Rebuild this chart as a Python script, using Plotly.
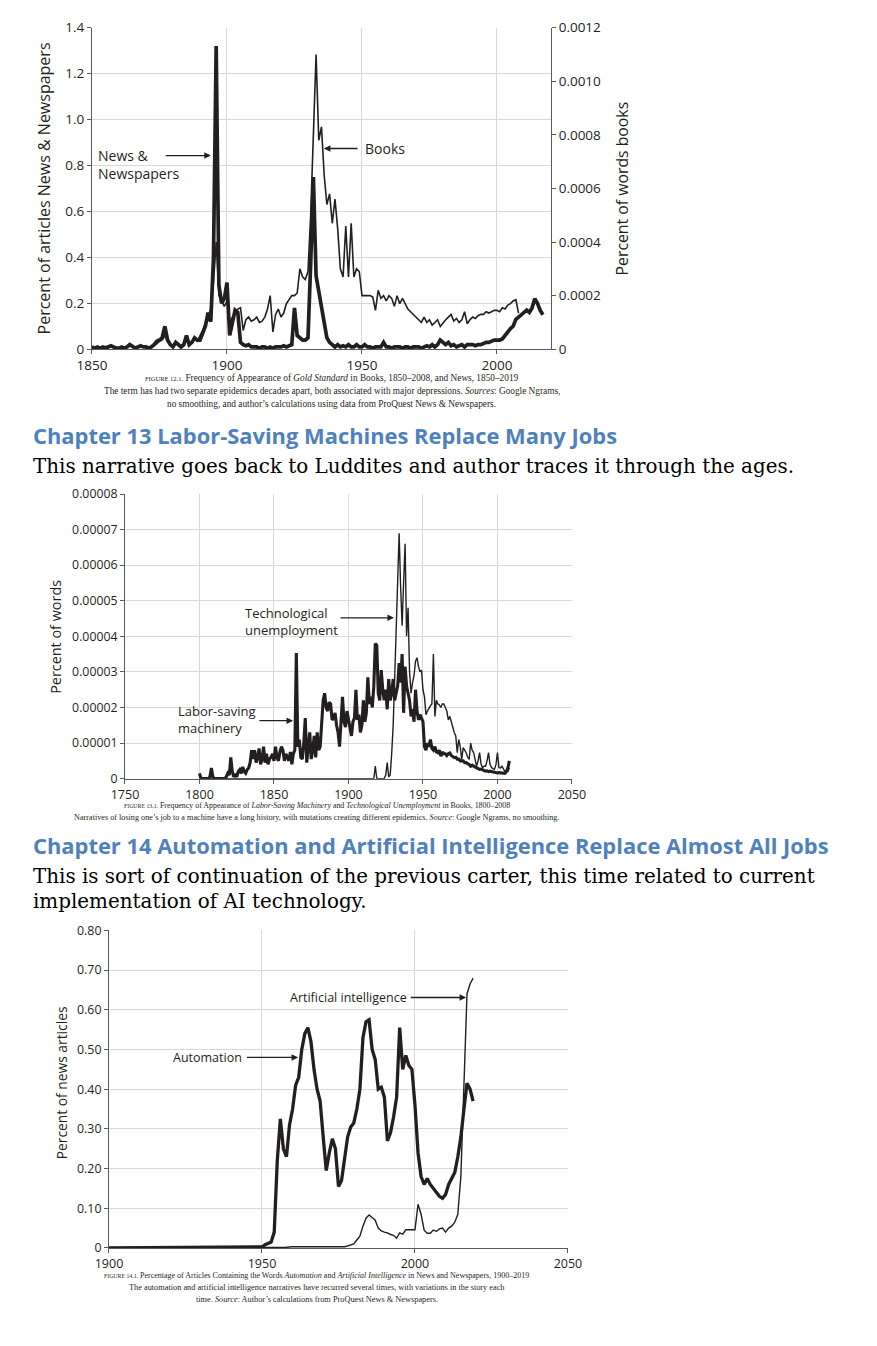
import plotly.graph_objects as go

W, H = 877, 1346
INK = '#231f20'

# ---------------- Chart 1: Gold Standard ----------------
news_years = list(range(1850, 2018))
news = [
    .01, .005, .01, .005, .01, .005, .01, .015, .01, .005,
    .005, .01, .005, .01, .02, .01, .005, .01, .015, .01,
    .01, .005, .01, .02, .035, .04, .05, .10, .04, .02,
    .01, .03, .02, .01, .02, .06, .02, .03, .05, .04,
    .04, .07, .10, .16, .12, .40, 1.32, .28, .20, .22,
    .29, .06, .12, .17, .16, .03, .02, .015, .02, .01,
    .01, .01, .005, .01, .01, .005, .01, .005, .01, .01,
    .01, .015, .01, .015, .02, .18, .06, .05, .04, .04,
    .05, .37, .75, .32, .25, .18, .12, .05, .03, .02,
    .01, .02, .01, .015, .01, .02, .01, .01, .02, .01,
    .01, .02, .01, .01, .005, .01, .01, .01, .03, .01,
    .01, .005, .01, .01, .01, .005, .01, .01, .005, .01,
    .01, .01, .005, .01, .015, .01, .02, .01, .02, .04,
    .03, .02, .03, .015, .02, .01, .015, .02, .01, .02,
    .02, .02, .015, .02, .02, .025, .03, .03, .035, .04,
    .04, .04, .045, .06, .08, .09, .10, .13, .14, .15,
    .16, .17, .16, .18, .22, .20, .17, .15,
]
books_years = list(range(1850, 2009))
books = [
    1e-5, 5e-6, 1e-5, 5e-6, 1e-5, 1e-5, 1e-5, 1.5e-5, 1e-5, 5e-6,
    5e-6, 1e-5, 5e-6, 1e-5, 1.5e-5, 1e-5, 5e-6, 1e-5, 1e-5, 1e-5,
    1e-5, 5e-6, 1e-5, 1.5e-5, 2e-5, 3e-5, 3.5e-5, 5e-5, 3e-5, 2e-5,
    1e-5, 2e-5, 2e-5, 1e-5, 2e-5, 4e-5, 2e-5, 3e-5, 4e-5, 3e-5,
    5e-5, 7e-5, 1.0e-4, 1.2e-4, 1.5e-4, 2.5e-4, 4.0e-4, 2.0e-4, 1.8e-4, 1.6e-4,
    1.8e-4, 1.0e-4, 1.2e-4, 1.35e-4, 1.5e-4, 1.55e-4, 0.7e-4, 1.1e-4, 1.2e-4, 1.05e-4,
    1.1e-4, 1.2e-4, 1.0e-4, 1.05e-4, 1.2e-4, 1.5e-4, 2.0e-4, 0.65e-4, 1.3e-4, 1.5e-4,
    1.2e-4, 1.35e-4, 1.7e-4, 1.85e-4, 2.0e-4, 2.0e-4, 2.1e-4, 3.0e-4, 2.7e-4, 2.6e-4,
    2.9e-4, 5.0e-4, 8.0e-4, 1.1e-3, 7.8e-4, 8.3e-4, 6.5e-4, 5.4e-4, 5.8e-4, 4.7e-4,
    5.6e-4, 4.5e-4, 3.0e-4, 2.7e-4, 4.6e-4, 2.7e-4, 4.7e-4, 2.7e-4, 3.0e-4, 2.9e-4,
    2.0e-4, 2.0e-4, 2.0e-4, 2.0e-4, 1.95e-4, 1.45e-4, 2.2e-4, 1.9e-4, 2.0e-4, 1.8e-4,
    2.0e-4, 1.9e-4, 1.6e-4, 2.0e-4, 1.7e-4, 1.9e-4, 1.7e-4, 1.5e-4, 1.4e-4, 1.3e-4,
    1.2e-4, 1.1e-4, 1.0e-4, 1.2e-4, 1.0e-4, 1.1e-4, 0.9e-4, 1.0e-4, 1.1e-4, 0.85e-4,
    1.0e-4, 1.1e-4, 1.2e-4, 1.3e-4, 1.05e-4, 1.15e-4, 1.0e-4, 1.1e-4, 1.4e-4, 0.95e-4,
    1.1e-4, 1.2e-4, 1.15e-4, 1.25e-4, 1.3e-4, 1.3e-4, 1.4e-4, 1.35e-4, 1.4e-4, 1.45e-4,
    1.45e-4, 1.4e-4, 1.55e-4, 1.5e-4, 1.65e-4, 1.7e-4, 1.8e-4, 1.85e-4, 1.35e-4,
]
c1_xticks = [1850, 1900, 1950, 2000]
c1_yticks = [0, 0.2, 0.4, 0.6, 0.8, 1.0, 1.2, 1.4]
c1_ytext = ['0', '0.2', '0.4', '0.6', '0.8', '1.0', '1.2', '1.4']
c1_y2ticks = [0, 0.0002, 0.0004, 0.0006, 0.0008, 0.0010, 0.0012]
c1_y2text = ['0', '0.0002', '0.0004', '0.0006', '0.0008', '0.0010', '0.0012']

# ---------------- Chart 2: Labor-saving / Technological unemployment ----------------
ls_years = list(range(1800, 2009))
labor_saving = [
    0.15e-5, 0, 0, 0, 0, 0, 0, 0.05e-5, 0.3e-5, 0.05e-5,
    0, 0, 0, 0, 0, 0, 0, 0, 0.05e-5, 0.15e-5,
    0.1e-5, 0.6e-5, 0.2e-5, 0.05e-5, 0.1e-5, 0.05e-5, 0.2e-5, 0.25e-5, 0.15e-5, 0.33e-5,
    0.2e-5, 0.15e-5, 0.25e-5, 0.3e-5, 0.45e-5, 0.8e-5, 0.55e-5, 0.8e-5, 0.45e-5, 0.6e-5,
    0.85e-5, 0.4e-5, 0.55e-5, 0.9e-5, 0.45e-5, 0.7e-5, 0.4e-5, 0.55e-5, 0.6e-5, 0.7e-5,
    0.5e-5, 0.9e-5, 0.6e-5, 0.5e-5, 0.75e-5, 0.9e-5, 0.8e-5, 0.5e-5, 0.7e-5, 0.6e-5,
    0.5e-5, 0.75e-5, 0.4e-5, 0.7e-5, 0.8e-5, 3.53e-5, 0.9e-5, 1.1e-5, 0.6e-5, 0.55e-5,
    1.0e-5, 1.7e-5, 0.45e-5, 0.9e-5, 1.3e-5, 0.55e-5, 0.8e-5, 1.2e-5, 0.6e-5, 1.3e-5,
    0.8e-5, 0.9e-5, 1.6e-5, 2.2e-5, 2.4e-5, 2.0e-5, 1.9e-5, 2.15e-5, 2.1e-5, 1.65e-5,
    1.7e-5, 1.85e-5, 1.5e-5, 1.3e-5, 0.9e-5, 1.7e-5, 2.3e-5, 1.6e-5, 1.45e-5, 1.9e-5,
    1.65e-5, 1.4e-5, 1.2e-5, 1.6e-5, 1.7e-5, 2.5e-5, 1.65e-5, 1.8e-5, 1.3e-5, 1.5e-5,
    2.2e-5, 1.6e-5, 1.85e-5, 2.85e-5, 2.1e-5, 2.3e-5, 2.0e-5, 2.6e-5, 3.8e-5, 3.75e-5,
    2.4e-5, 2.2e-5, 3.05e-5, 2.5e-5, 2.2e-5, 2.5e-5, 1.95e-5, 2.8e-5, 2.2e-5, 2.4e-5,
    2.8e-5, 2.2e-5, 2.4e-5, 2.6e-5, 3.25e-5, 2.7e-5, 3.5e-5, 1.85e-5, 3.15e-5, 2.6e-5,
    2.4e-5, 2.2e-5, 1.75e-5, 1.95e-5, 1.6e-5, 2.5e-5, 1.9e-5, 1.65e-5, 1.8e-5, 1.7e-5,
    1.6e-5, 0.9e-5, 0.8e-5, 1.0e-5, 0.9e-5, 1.1e-5, 0.85e-5, 0.8e-5, 0.9e-5, 0.75e-5,
    0.73e-5, 0.8e-5, 0.63e-5, 0.75e-5, 0.7e-5, 0.7e-5, 0.65e-5, 0.7e-5, 0.72e-5, 0.65e-5,
    0.62e-5, 0.59e-5, 0.6e-5, 0.55e-5, 0.55e-5, 0.5e-5, 0.5e-5, 0.5e-5, 0.45e-5, 0.45e-5,
    0.42e-5, 0.4e-5, 0.35e-5, 0.38e-5, 0.35e-5, 0.33e-5, 0.3e-5, 0.3e-5, 0.26e-5, 0.27e-5,
    0.25e-5, 0.24e-5, 0.21e-5, 0.22e-5, 0.2e-5, 0.21e-5, 0.2e-5, 0.18e-5, 0.17e-5, 0.17e-5,
    0.16e-5, 0.17e-5, 0.16e-5, 0.15e-5, 0.15e-5, 0.15e-5, 0.2e-5, 0.3e-5, 0.5e-5,
]
tu_years = [1800, 1917] + list(range(1918, 2009))
tech_unemp = [0, 0,
    0.35e-5, 0, 0, 0, 0, 0, 0, 0.1e-5, 0.45e-5, 0.05e-5,
    0.1e-5, 0.7e-5, 1.5e-5, 2.8e-5, 4.4e-5, 5.8e-5, 6.9e-5, 5.4e-5, 4.3e-5, 5.5e-5,
    6.6e-5, 4.0e-5, 4.8e-5, 3.0e-5, 2.4e-5, 2.7e-5, 2.9e-5, 3.3e-5, 3.4e-5, 3.15e-5,
    3.0e-5, 3.05e-5, 2.5e-5, 2.3e-5, 1.8e-5, 1.9e-5, 2.0e-5, 2.05e-5, 2.1e-5, 3.5e-5,
    1.75e-5, 2.2e-5, 2.1e-5, 2.07e-5, 2.0e-5, 2.1e-5, 2.1e-5, 2.0e-5, 1.9e-5, 1.65e-5,
    1.75e-5, 1.6e-5, 1.42e-5, 1.3e-5, 1.2e-5, 0.73e-5, 1.1e-5, 0.9e-5, 0.54e-5, 0.87e-5,
    0.8e-5, 0.73e-5, 0.6e-5, 0.54e-5, 1.0e-5, 0.8e-5, 0.73e-5, 0.5e-5, 0.35e-5, 0.5e-5,
    0.73e-5, 0.4e-5, 0.31e-5, 0.35e-5, 0.35e-5, 0.5e-5, 0.73e-5, 0.4e-5, 0.31e-5, 0.28e-5,
    0.26e-5, 0.4e-5, 0.73e-5, 0.31e-5, 0.3e-5, 0.35e-5, 0.25e-5, 0.2e-5, 0.2e-5, 0.2e-5,
    0.3e-5,
]
c2_xticks = [1750, 1800, 1850, 1900, 1950, 2000, 2050]
c2_yticks = [0, 1e-5, 2e-5, 3e-5, 4e-5, 5e-5, 6e-5, 7e-5, 8e-5]
c2_ytext = ['0', '0.00001', '0.00002', '0.00003', '0.00004', '0.00005', '0.00006', '0.00007', '0.00008']

# ---------------- Chart 3: Automation / AI ----------------
auto_years = [1900, 1949] + list(range(1950, 2020))
automation = [0, 0.001,
    0.003, 0.008, 0.012, 0.015, 0.04, 0.22, 0.325, 0.25, 0.23, 0.31,
    0.35, 0.41, 0.43, 0.50, 0.54, 0.555, 0.52, 0.45, 0.40, 0.37,
    0.28, 0.195, 0.24, 0.275, 0.25, 0.155, 0.17, 0.225, 0.28, 0.305,
    0.315, 0.35, 0.40, 0.53, 0.57, 0.575, 0.50, 0.475, 0.40, 0.405,
    0.38, 0.27, 0.29, 0.33, 0.38, 0.555, 0.45, 0.485, 0.46, 0.45,
    0.36, 0.24, 0.18, 0.16, 0.175, 0.16, 0.15, 0.14, 0.13, 0.125,
    0.135, 0.16, 0.175, 0.19, 0.23, 0.28, 0.35, 0.415, 0.40, 0.37,
]
ai_years = [1900, 1956, 1958, 1960, 1962, 1964, 1966, 1968, 1970, 1972, 1974, 1976] + list(range(1977, 2020))
ai = [0, 0.001, 0.002, 0.003, 0.003, 0.002, 0.002, 0.002, 0.002, 0.002, 0.003, 0.003,
    0.003, 0.005, 0.007, 0.01, 0.02, 0.03, 0.055, 0.075, 0.083, 0.077,
    0.07, 0.05, 0.043, 0.04, 0.038, 0.034, 0.032, 0.025, 0.038, 0.035,
    0.046, 0.046, 0.046, 0.046, 0.11, 0.085, 0.045, 0.037, 0.037, 0.045,
    0.042, 0.048, 0.05, 0.04, 0.05, 0.055, 0.065, 0.085, 0.18, 0.40,
    0.64, 0.665, 0.68,
]
c3_xticks = [1900, 1950, 2000, 2050]
c3_yticks = [0, 0.1, 0.2, 0.3, 0.4, 0.5, 0.6, 0.7, 0.8]
c3_ytext = ['0', '0.10', '0.20', '0.30', '0.40', '0.50', '0.60', '0.70', '0.80']

# The photographed page places the figure inside a slightly larger frame; these
# constants map a target picture pixel to the figure's paper fraction.
SX, OX = 0.967, 22.0
SY, OY = 0.988, 16.3


def fx(px):
    return (px - OX) / (SX * W)


def fy(py):
    return 1 - (py - OY) / (SY * H)


fig = go.Figure()
fig.add_trace(go.Scatter(x=news_years, y=news, mode='lines', line=dict(color=INK, width=3.7),
                         xaxis='x', yaxis='y', name='News & Newspapers'))
fig.add_trace(go.Scatter(x=books_years, y=books, mode='lines', line=dict(color=INK, width=1.6),
                         xaxis='x', yaxis='y4', name='Books'))
fig.add_trace(go.Scatter(x=ls_years, y=labor_saving, mode='lines', line=dict(color=INK, width=3.1),
                         xaxis='x2', yaxis='y2', name='Labor-saving machinery'))
fig.add_trace(go.Scatter(x=tu_years, y=tech_unemp, mode='lines', line=dict(color=INK, width=1.4),
                         xaxis='x2', yaxis='y2', name='Technological unemployment'))
fig.add_trace(go.Scatter(x=auto_years, y=automation, mode='lines', line=dict(color=INK, width=3.3),
                         xaxis='x3', yaxis='y3', name='Automation'))
fig.add_trace(go.Scatter(x=ai_years, y=ai, mode='lines', line=dict(color=INK, width=1.4),
                         xaxis='x3', yaxis='y3', name='Artificial intelligence'))

AX = dict(showline=True, linecolor='#5a5a5a', linewidth=1, ticks='outside', tickcolor='#5a5a5a',
          ticklen=4, showgrid=True, gridcolor='#d9d9d9', gridwidth=1, zeroline=False, mirror=False)


def axfont(s):
    return dict(family='Open Sans', size=s, color=INK)


fig.update_layout(
    width=W, height=H, margin=dict(l=0, r=0, t=0, b=0),
    paper_bgcolor='white', plot_bgcolor='white', showlegend=False,
    xaxis=dict(AX, domain=[fx(91), fx(550)], range=[1850, 2020], tickvals=c1_xticks,
               tickfont=axfont(13.5), anchor='y'),
    yaxis=dict(AX, domain=[fy(349), fy(27)], range=[0, 1.4], tickvals=c1_yticks, ticktext=c1_ytext,
               tickfont=axfont(13.5), anchor='x'),
    yaxis4=dict(AX, domain=[fy(349), fy(27)], range=[0, 0.0012], tickvals=c1_y2ticks, ticktext=c1_y2text,
                tickfont=axfont(13.5), overlaying='y', side='right', anchor='x', showgrid=False),
    xaxis2=dict(AX, domain=[fx(124), fx(571)], range=[1750, 2050], tickvals=c2_xticks,
                tickfont=axfont(12.5), anchor='y2'),
    yaxis2=dict(AX, domain=[fy(779), fy(494)], range=[0, 8e-5], tickvals=c2_yticks, ticktext=c2_ytext,
                tickfont=axfont(12.3), anchor='x2'),
    xaxis3=dict(AX, domain=[fx(108), fx(567)], range=[1900, 2050], tickvals=c3_xticks,
                tickfont=axfont(12.5), anchor='y3'),
    yaxis3=dict(AX, domain=[fy(1249), fy(931)], range=[0, 0.8], tickvals=c3_yticks, ticktext=c3_ytext,
                tickfont=axfont(12.4), anchor='x3'),
)

ann = []


def ptext(x, y, s, size, family='Open Sans', color=INK, xanchor='left', angle=0, weight='normal'):
    ann.append(dict(x=fx(x), y=fy(y), xref='paper', yref='paper', text=s, showarrow=False,
                    xanchor=xanchor, yanchor='middle', textangle=angle,
                    font=dict(family=family, size=size, color=color, weight=weight)))


def dtext(xr, yr, x, y, s, size):
    ann.append(dict(x=x, y=y, xref=xr, yref=yr, text=s, showarrow=False, xanchor='left',
                    yanchor='middle', align='left', font=dict(family='Open Sans', size=size, color=INK)))


def darrow(xr, yr, x, y, ax):
    ann.append(dict(x=x, y=y, xref=xr, yref=yr, ax=ax / SX, ay=0, text='', showarrow=True,
                    arrowhead=2, arrowsize=1, arrowwidth=1.3, arrowcolor=INK))


# axis titles
ptext(43, 188, 'Percent of articles News & Newspapers', 16, angle=-90, xanchor='center')
ptext(622, 188, 'Percent of words books', 15.8, angle=-90, xanchor='center')
ptext(55, 637, 'Percent of words', 14.4, angle=-90, xanchor='center')
ptext(60, 1083, 'Percent of news articles', 13.8, angle=-90, xanchor='center')

# in-chart labels
dtext('x', 'y', 1851.5, 0.806, 'News &<br>Newspapers', 14)
darrow('x', 'y', 1894, 0.843, -45)
dtext('x', 'y', 1950.4, 0.874, 'Books', 14)
darrow('x', 'y', 1935.9, 0.874, 34)
dtext('x2', 'y2', 1829.5, 4.41e-5, 'Technological<br>unemployment', 13)
darrow('x2', 'y2', 1930.5, 4.52e-5, -53)
dtext('x2', 'y2', 1784.5, 1.66e-5, 'Labor-saving<br>machinery', 13)
darrow('x2', 'y2', 1862.8, 1.63e-5, -34)
dtext('x3', 'y3', 1958.5, 0.631, 'Artificial intelligence', 12.5)
darrow('x3', 'y3', 2016.7, 0.631, -55)
dtext('x3', 'y3', 1920.2, 0.48, 'Automation', 12.5)
darrow('x3', 'y3', 1961.8, 0.48, -51)

# captions
SERIF = 'Liberation Serif'
SC1 = "<span style='font-size:6.5px'>FIGURE {}</span> "
SC2 = "<span style='font-size:5.8px'>FIGURE {}</span> "
ptext(331, 378, SC1.format('12.1.') + 'Frequency of Appearance of <i>Gold Standard</i> in Books, 1850–2008, and News, 1850–2019',
      9.3, family=SERIF, xanchor='center')
ptext(331, 391, 'The term has had two separate epidemics decades apart, both associated with major depressions. <i>Sources</i>: Google Ngrams,',
      9.3, family=SERIF, xanchor='center')
ptext(331, 404, 'no smoothing, and author’s calculations using data from ProQuest News & Newspapers.',
      9.3, family=SERIF, xanchor='center')
ptext(316, 806, SC2.format('13.1.') + 'Frequency of Appearance of <i>Labor-Saving Machinery</i> and <i>Technological Unemployment</i> in Books, 1800–2008',
      7.9, family=SERIF, xanchor='center')
ptext(316, 818, 'Narratives of losing one’s job to a machine have a long history, with mutations creating different epidemics. <i>Source</i>: Google Ngrams, no smoothing.',
      8.2, family=SERIF, xanchor='center')
ptext(316, 1277, SC2.format('14.1.') + 'Percentage of Articles Containing the Words <i>Automation</i> and <i>Artificial Intelligence</i> in News and Newspapers, 1900–2019',
      8.0, family=SERIF, xanchor='center')
ptext(316, 1289, 'The automation and artificial intelligence narratives have recurred several times, with variations in the story each',
      8.3, family=SERIF, xanchor='center')
ptext(316, 1301, 'time. <i>Source</i>: Author’s calculations from ProQuest News & Newspapers.',
      8.3, family=SERIF, xanchor='center')

# headings and body text
BLUE = '#4f81bd'
BODY = 'DejaVu Serif'
ptext(30, 435, 'Chapter 13 Labor-Saving Machines Replace Many Jobs', 21.9, family='Open Sans', color=BLUE, weight='bold')
ptext(30, 466, 'This narrative goes back to Luddites and author traces it through the ages.', 19.9, family=BODY, color='#000000')
ptext(30, 846, 'Chapter 14 Automation and Artificial Intelligence Replace Almost All Jobs', 21.9, family='Open Sans', color=BLUE, weight='bold')
ptext(30, 877, 'This is sort of continuation of the previous carter, this time related to current', 19.9, family=BODY, color='#000000')
ptext(30, 902, 'implementation of AI technology.', 19.9, family=BODY, color='#000000')

fig.update_layout(annotations=ann)
fig.write_html('out.html')
